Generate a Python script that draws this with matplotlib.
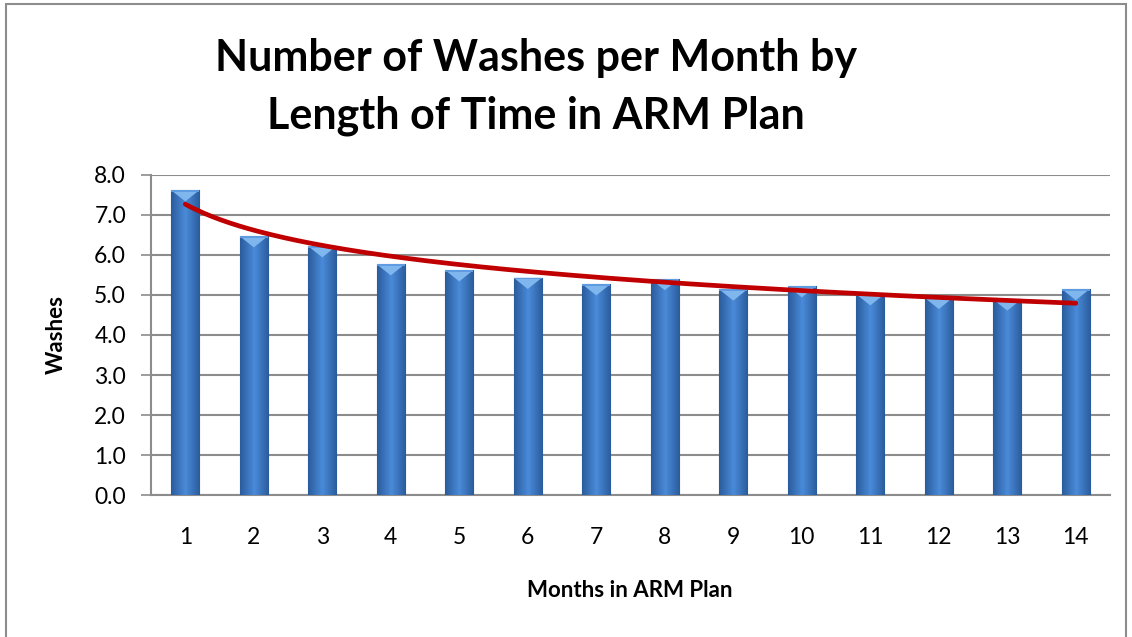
import numpy as np
import matplotlib
matplotlib.use("Agg")
import matplotlib.pyplot as plt
from matplotlib.patches import Rectangle

months = list(range(1, 15))
washes = [7.62, 6.47, 6.22, 5.77, 5.62, 5.43, 5.27, 5.40, 5.14, 5.22, 5.02, 4.93, 4.89, 5.15]
yticks = [0.0, 1.0, 2.0, 3.0, 4.0, 5.0, 6.0, 7.0, 8.0]
title_lines = ["Number of Washes per Month by", "Length of Time in ARM Plan"]

plt.rcParams['font.family'] = ['Lato', 'DejaVu Sans']

fig = plt.figure(figsize=(11.32, 6.37), dpi=100)
fig.patches.append(Rectangle((0.005, -0.01), 0.99, 1.004, transform=fig.transFigure,
                             fill=False, edgecolor='#8c8c8c', linewidth=1.5, zorder=0))
ax = fig.add_axes([0.1334, 0.2229, 0.8472, 0.5024])

x = np.array(months)
y = np.array(washes)
bars = ax.bar(x, y, width=0.41, color='#3a75c2', edgecolor='#2c5a94', linewidth=0.8, zorder=3)

# horizontal gradient shading on each bar
grad = np.linspace(0, 1, 64).reshape(1, -1)
grad = np.vstack([grad, grad])
cmap = matplotlib.colors.LinearSegmentedColormap.from_list('g', ['#4a8ad8', '#2a5c9c'])
for b in bars:
    x0, w, h = b.get_x(), b.get_width(), b.get_height()
    im = ax.imshow(np.abs(grad - 0.5) * 2, extent=[x0, x0 + w, 0, h], aspect='auto',
                   cmap=cmap, zorder=3.5, origin='lower')
    im.set_clip_path(b)
    # top bevel
    ax.fill([x0, x0 + w, x0 + w / 2], [h, h, h - 0.28], color='#7fb6ee', zorder=4, lw=0)
    ax.fill([x0, x0 + w, x0 + w, x0], [h, h, h - 0.04, h - 0.04], color='#5f9be0', zorder=4.1, lw=0)

# logarithmic trendline fitted from the data
b1, b0 = np.polyfit(np.log(x), y, 1)
xt = np.linspace(1, 14, 200)
ax.plot(xt, b0 + b1 * np.log(xt), color='#c00000', linewidth=3.4, zorder=5, solid_capstyle='round')

ax.set_xlim(0.5, 14.5)
ax.set_ylim(0, 8)
ax.set_yticks(yticks)
ax.set_yticklabels([f"{t:.1f}" for t in yticks], fontsize=16.5)
ax.set_xticks(months)
ax.set_xticklabels([str(m) for m in months], fontsize=16.5)
ax.tick_params(axis='x', length=0, pad=23)
ax.tick_params(axis='y', length=7, color='#8c8c8c', width=1.2, pad=11)
ax.grid(axis='y', color='#8c8c8c', linewidth=1.5, zorder=0)
ax.set_axisbelow(True)
for s in ['top', 'right']:
    ax.spines[s].set_visible(False)
for s in ['left', 'bottom']:
    ax.spines[s].set_color('#8c8c8c')
    ax.spines[s].set_linewidth(1.5)

ax.set_ylabel("Washes", fontsize=16, fontweight='bold')
ax.yaxis.set_label_coords(-0.099, 0.5)
ax.yaxis.label.set_va('center')
ax.set_xlabel("Months in ARM Plan", fontsize=16, fontweight='bold')
ax.xaxis.set_label_coords(0.4995, -0.297)
ax.xaxis.label.set_va('center')

fig.text(0.4735, 1 - 71 / 637, title_lines[0], ha='center', va='baseline', fontsize=31, fontweight='bold')
fig.text(0.4735, 1 - 128 / 637, title_lines[1], ha='center', va='baseline', fontsize=31, fontweight='bold')

fig.savefig("out.png", dpi=100)
